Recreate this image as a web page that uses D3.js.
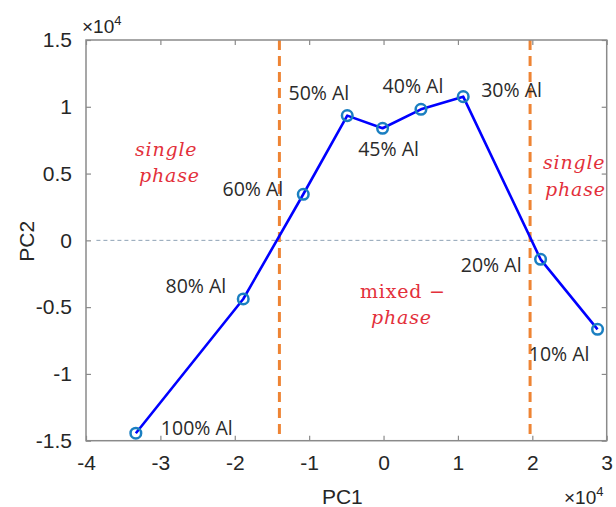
<!DOCTYPE html>
<html>
<head>
<meta charset="utf-8">
<script src="https://cdn.jsdelivr.net/npm/d3@7"></script>
<style>
  html, body { margin: 0; padding: 0; background: #fff; }
  svg { display: block; }
</style>
</head>
<body>
<svg id="chart" width="616" height="507"></svg>
<script>
// PCA scores of the Al-content series
const labels = ["100% Al", "80% Al", "60% Al", "50% Al", "45% Al", "40% Al", "30% Al", "20% Al", "10% Al"];
const pc1 = [-33300, -18860, -10790, -4880, -130, 5030, 10710, 21110, 28770];
const pc2 = [-14440, -4390, 3450, 9340, 8390, 9810, 10760, -1420, -6660];

// phase boundaries on PC1
const boundaries = [-14000, 19700];

// axis ticks (shown in units of 10^4)
const xTicks = [-40000, -30000, -20000, -10000, 0, 10000, 20000, 30000];
const yTicks = [-15000, -10000, -5000, 0, 5000, 10000, 15000];

// label placement around each point: [anchor, dx, dy]
const labelPlacement = [
  ["start", 25, 2], ["end", -17, -6], ["end", -20, 2], ["end", 2, -16],
  ["middle", 6, 28], ["middle", -8, -16], ["start", 18, 0], ["end", -19, 13], ["end", -8, 32]
];

const W = 616, H = 507;
const m = { left: 86, right: 9.3, top: 40, bottom: 66.3 };
const svg = d3.select("#chart");

const x = d3.scaleLinear().domain([-40000, 30000]).range([m.left, W - m.right]);
const y = d3.scaleLinear().domain([-15000, 15000]).range([H - m.bottom, m.top]);
const fmt = v => d3.format("~g")(v / 1e4).replace("\u2212", "-");

const axisColor = "#8a8a8a";
const textColor = "#262626";
const tickLen = 5;
const x0 = x.range()[0], x1 = x.range()[1], y0 = y.range()[0], y1 = y.range()[1];

// zero reference line
svg.append("line")
  .attr("x1", x(-38600)).attr("x2", x(29200))
  .attr("y1", y(0)).attr("y2", y(0))
  .attr("stroke", "#8ea2b5").attr("stroke-width", 1)
  .attr("stroke-dasharray", "4,3");

// phase boundaries
svg.selectAll("line.boundary").data(boundaries).join("line")
  .attr("class", "boundary")
  .attr("x1", d => x(d)).attr("x2", d => x(d))
  .attr("y1", y1).attr("y2", y0)
  .attr("stroke", "#ee8434").attr("stroke-width", 3)
  .attr("stroke-dasharray", "10,6");

// axes: bottom / left with labels, top / right mirrored ticks
const axBottom = svg.append("g").attr("transform", `translate(0,${y0})`)
  .call(d3.axisBottom(x).tickValues(xTicks).tickSize(-tickLen).tickPadding(14).tickFormat(fmt));
const axTop = svg.append("g").attr("transform", `translate(0,${y1})`)
  .call(d3.axisTop(x).tickValues(xTicks).tickSize(-tickLen).tickFormat(""));
const axLeft = svg.append("g").attr("transform", `translate(${x0},0)`)
  .call(d3.axisLeft(y).tickValues(yTicks).tickSize(-tickLen).tickPadding(14).tickFormat(fmt));
const axRight = svg.append("g").attr("transform", `translate(${x1},0)`)
  .call(d3.axisRight(y).tickValues(yTicks).tickSize(-tickLen).tickFormat(""));

[axBottom, axTop, axLeft, axRight].forEach(g => {
  g.select(".domain").remove();
  g.selectAll(".tick line").attr("stroke", axisColor).attr("stroke-width", 1.2);
  g.selectAll(".tick text")
    .attr("fill", textColor)
    .style("font-family", "'Liberation Sans', Arial, sans-serif")
    .style("font-size", "21px");
});
axBottom.selectAll(".tick text").attr("dy", "0.71em");

// axes box
svg.append("rect")
  .attr("x", x0).attr("y", y1)
  .attr("width", x1 - x0).attr("height", y0 - y1)
  .attr("fill", "none").attr("stroke", axisColor).attr("stroke-width", 1.5);

// exponent markers
function exponent(px, py) {
  const t = svg.append("text").attr("x", px).attr("y", py)
    .attr("fill", textColor)
    .style("font-family", "'Liberation Sans', Arial, sans-serif")
    .style("font-size", "19px");
  t.append("tspan").text("×10");
  t.append("tspan").attr("dy", -8).style("font-size", "13px").text("4");
}
exponent(82, 33);
exponent(564, 504);

// axis titles
svg.append("text")
  .attr("x", (x0 + x1) / 2 - 4).attr("y", 504)
  .attr("text-anchor", "middle").attr("fill", textColor)
  .style("font-family", "'Liberation Sans', Arial, sans-serif")
  .style("font-size", "21px").text("PC1");
svg.append("text")
  .attr("transform", `translate(34,${(y0 + y1) / 2 + 1}) rotate(-90)`)
  .attr("text-anchor", "middle").attr("fill", textColor)
  .style("font-family", "'Liberation Sans', Arial, sans-serif")
  .style("font-size", "21px").text("PC2");

// data line and markers
const pts = pc1.map((v, i) => [v, pc2[i]]);
svg.append("path")
  .datum(pts)
  .attr("d", d3.line().x(d => x(d[0])).y(d => y(d[1])))
  .attr("fill", "none").attr("stroke", "#0000ff").attr("stroke-width", 2.6)
  .attr("stroke-linejoin", "round");
svg.selectAll("circle.pt").data(pts).join("circle")
  .attr("class", "pt")
  .attr("cx", d => x(d[0])).attr("cy", d => y(d[1])).attr("r", 5.3)
  .attr("fill", "none").attr("stroke", "#1a7fc1").attr("stroke-width", 2.5);

// point labels
svg.selectAll("text.pt-label").data(labels).join("text")
  .attr("class", "pt-label")
  .attr("x", (d, i) => x(pc1[i]) + labelPlacement[i][1])
  .attr("y", (d, i) => y(pc2[i]) + labelPlacement[i][2])
  .attr("text-anchor", (d, i) => labelPlacement[i][0])
  .attr("fill", "#2a2a2a")
  .style("font-family", "'Open Sans', 'Noto Sans', sans-serif")
  .style("font-size", "19.5px")
  .text(d => d);

// phase region notes
const red = "#e3303b";
function note(px, py, parts) {
  const t = svg.append("text").attr("x", px).attr("y", py)
    .attr("fill", red)
    .style("font-family", "'DejaVu Serif', serif")
    .style("font-size", "19px")
    .style("letter-spacing", "0.8px");
  parts.forEach(p => t.append("tspan").style("font-style", p[1] ? "italic" : "normal").text(p[0]));
}
note(135, 156, [["single", true]]);
note(139, 182, [["phase", true]]);
note(543, 169, [["single", true]]);
note(545, 196, [["phase", true]]);
note(360, 298, [["mixed", false], [" \u2212", false]]);
note(371, 324, [["phase", true]]);
</script>
</body>
</html>
